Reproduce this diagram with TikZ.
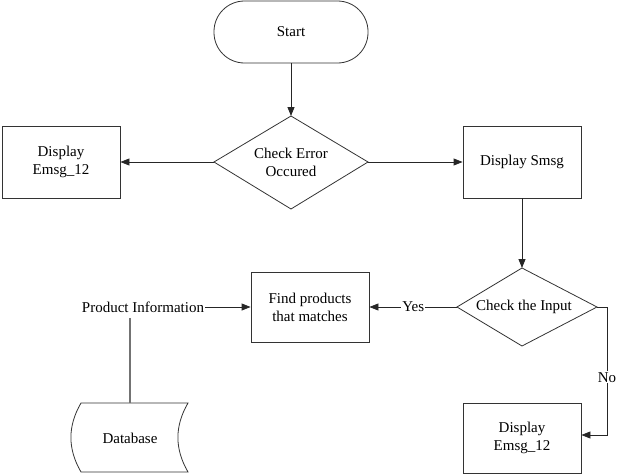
\documentclass[tikz,border=0pt]{standalone}
\usepackage{fontspec}
\setmainfont{Liberation Serif}
\usetikzlibrary{arrows.meta,shapes.geometric}
\begin{document}
\begin{tikzpicture}[x=1pt,y=-1pt,
  every node/.style={font=\fontsize{15}{18}\selectfont, align=center},
  box/.style={draw=black!80, line width=0.8pt, minimum width=118pt, minimum height=72pt, inner sep=0pt},
  decide/.style={draw=black!80, line width=0.8pt},
  conn/.style={draw=black!85, line width=0.8pt, -{Triangle[length=9pt,width=7pt]}},
  plain/.style={draw=black!55, line width=1.2pt}]
\useasboundingbox (0,0) rectangle (625,474);
% Start
\draw[decide, rounded corners=30.5pt] (214,1) rectangle (368,63);
\node (start) at (291,32) {Start};
\coordinate (startb) at (291,63);
% Diamond 1
\draw[decide] (214,162) -- (291,116) -- (368,162) -- (291,209) -- cycle;
\node (d1) at (291,162) {Check Error\\Occured};
\coordinate (d1t) at (291,116);
\coordinate (d1l) at (214,162);
\coordinate (d1r) at (368,162);
% Left display
\node[box] (dl) at (61,162) {Display\\Emsg\_12};
% Right display
\node[box] (ds) at (522,162) {Display Smsg};
% Diamond 2
\draw[decide] (457,307) -- (522,268) -- (597,307) -- (522,346) -- cycle;
\node (d2) at (524,307) {Check the Input};
\coordinate (d2t) at (522,268);
\coordinate (d2l) at (457,307);
\coordinate (d2r) at (597,307);
% Find products
\node[box, minimum height=70pt] (fp) at (310,307) {Find products\\that matches};
% Bottom display
\node[box, minimum height=70pt] (de) at (522,438) {Display\\Emsg\_12};
% Product info
\node[inner sep=1pt] (pi) at (143,307) {Product Information};
% Database
\draw[decide] (81,403) -- (188,403) to[bend right=30] (188,472) -- (81,472) to[bend left=30] (81,403) -- cycle;
\node (db) at (130,438) {Database};
\coordinate (dbt) at (130,403);
% Connectors
\draw[conn] (startb) -- (d1t);
\draw[conn] (d1l) -- (dl.east);
\draw[conn] (d1r) -- (ds.west);
\draw[conn] (ds.south) -- (d2t);
\draw[conn] (d2l) -- node[fill=white, inner sep=1pt] {Yes} (fp.east);
\draw[conn] (pi.east) -- (fp.west);
\draw[conn] (d2r) -- (607,307) -- node[fill=white, inner sep=1pt, pos=0.55] {No} (607,435) -- (de.east |- 0,435);
\draw[plain] (130,318) -- (dbt);
\end{tikzpicture}
\end{document}
